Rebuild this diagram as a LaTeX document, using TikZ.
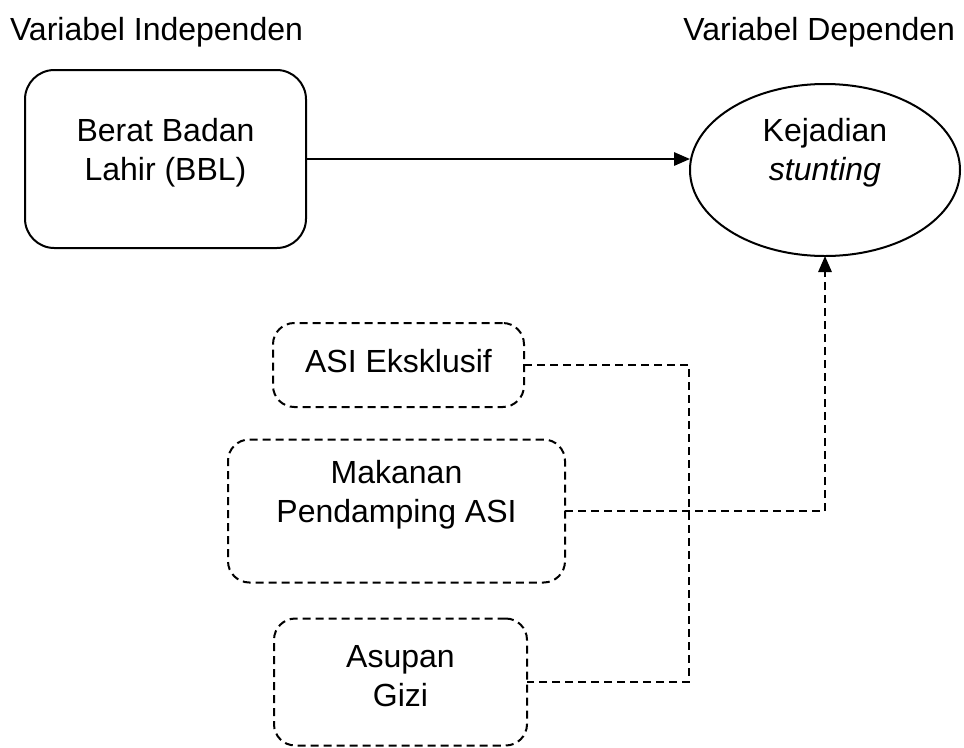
\documentclass[tikz,border=0pt]{standalone}
\usepackage{fontspec}
\setmainfont{Liberation Sans}
\usetikzlibrary{arrows.meta,shapes.geometric}
\begin{document}
\begin{tikzpicture}[x=0.75pt,y=-0.75pt,
  every node/.style={font=\fontsize{24}{29}\selectfont, inner sep=0pt, outer sep=0pt},
  solidbox/.style={draw, line width=1.5pt, rounded corners=22pt, rectangle},
  dashbox/.style={draw, line width=1.5pt, dash pattern=on 6pt off 3.75pt, rounded corners=16pt, rectangle},
  oval/.style={draw, line width=1.5pt, ellipse},
  txt/.style={align=center},
  link/.style={line width=1.5pt},
  dlink/.style={line width=1.5pt, dash pattern=on 6pt off 3.75pt},
  tip/.style={-{Triangle[length=12pt,width=10pt]}}]
\useasboundingbox (0,0) rectangle (964,747);

% headings
\node[anchor=west] (hind) at (10,32) {Variabel Independen};
\node[anchor=east] (hdep) at (955,32) {Variabel Dependen};

% boxes
\node[solidbox, minimum width=281*0.75pt, minimum height=178*0.75pt] (bbl) at (165.5,159) {};
\node[txt] (bblt) at (165.5,153) {Berat Badan\\Lahir (BBL)};

\node[oval, minimum width=270*0.75pt, minimum height=172*0.75pt] (ell) at (825,170) {};
\node[txt] (ellt) at (825,153) {Kejadian\\\itshape stunting};

\node[dashbox, minimum width=251*0.75pt, minimum height=84*0.75pt] (asi) at (398.5,365) {};
\node[txt] (asit) at (398.5,361) {ASI Eksklusif};

\node[dashbox, minimum width=337*0.75pt, minimum height=143*0.75pt] (mp) at (396.5,511) {};
\node[txt] (mpt) at (396.5,495) {Makanan\\Pendamping ASI};

\node[dashbox, minimum width=253*0.75pt, minimum height=127*0.75pt] (gizi) at (400.5,682) {};
\node[txt] (gizit) at (400.5,676) {Asupan\\Gizi};

% connectors
\draw[link, tip] (bbl.east) -- (bbl.east -| ell.west);
\draw[dlink] (asi.east) -- ++(165,0) coordinate (j) |- (gizi.east);
\draw[dlink, tip] (mp.east) -| (ell.south);
\end{tikzpicture}
\end{document}
